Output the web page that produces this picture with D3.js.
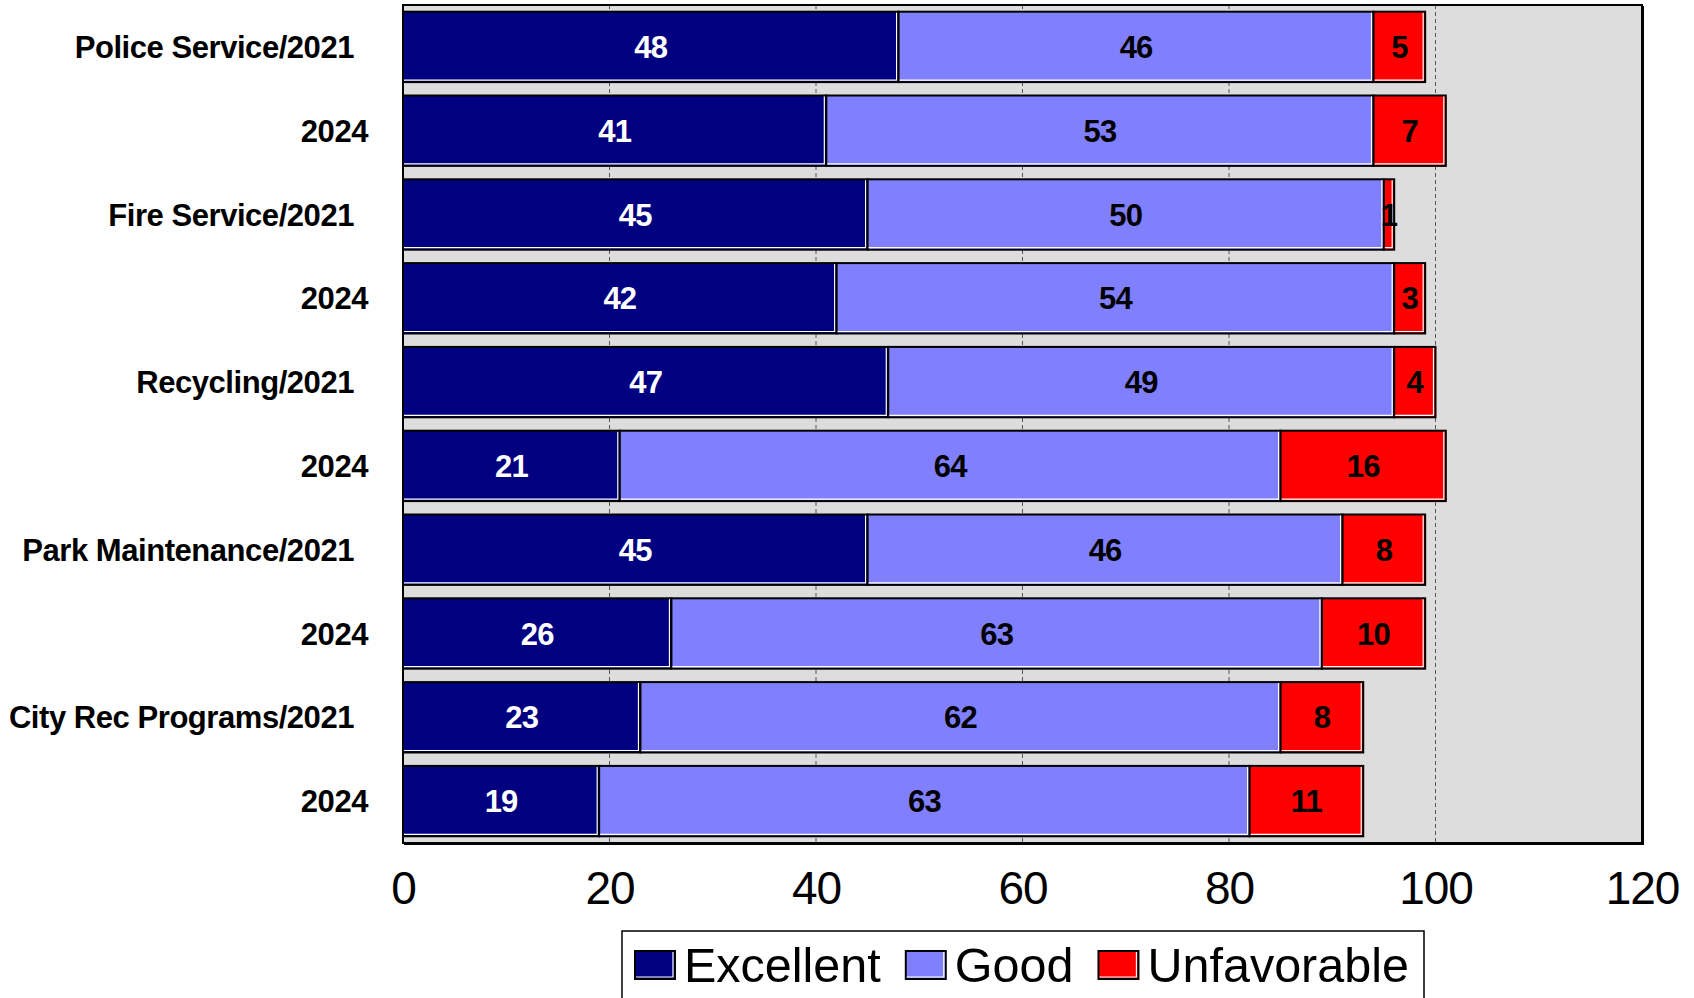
<!DOCTYPE html>
<html>
<head>
<meta charset="utf-8">
<script src="https://cdn.jsdelivr.net/npm/d3@7"></script>
<style>
body { margin: 0; background: #fff; }
text { font-family: "Liberation Sans", Arial, sans-serif; }
</style>
</head>
<body>
<div id="chart"></div>
<script>
// chart data
var categories = ["Police Service/2021", "2024", "Fire Service/2021", "2024", "Recycling/2021",
                  "2024", "Park Maintenance/2021", "2024", "City Rec Programs/2021", "2024"];
var excellent = [48, 41, 45, 42, 47, 21, 45, 26, 23, 19];
var good = [46, 53, 50, 54, 49, 64, 46, 63, 62, 63];
var unfavorable = [5, 7, 1, 3, 4, 16, 8, 10, 8, 11];
var seriesNames = ["Excellent", "Good", "Unfavorable"];
var xTicks = [0, 20, 40, 60, 80, 100, 120];

function init(){
    var w = 1694;
    var h = 998;
    var plot = {left: 403, top: 5, right: 1642, bottom: 843};
    var colors = ["#000080", "#8080ff", "#ff0000"];
    var labelColors = ["#fff", "#000", "#000"];

    var xScale = d3.scaleLinear()
                    .domain([0, 120])
                    .range([plot.left, plot.right]);

    // index domain, since "2024" repeats
    var yScale = d3.scaleBand()
                    .domain(d3.range(categories.length))
                    .range([plot.top, plot.bottom])
                    .paddingInner(0.16)
                    .paddingOuter(0.08);

    var rows = categories.map(function(c, i){
        return {Excellent: excellent[i], Good: good[i], Unfavorable: unfavorable[i]};
    });
    var layers = d3.stack().keys(seriesNames)(rows);

    var svg = d3.select('#chart')
                .append('svg')
                .attr('width', w)
                .attr('height', h);

    // plot background
    svg.append('rect')
        .attr('x', plot.left)
        .attr('y', plot.top)
        .attr('width', plot.right - plot.left)
        .attr('height', plot.bottom - plot.top)
        .attr('fill', '#dddddd');

    // dashed gridlines
    svg.append('g')
        .selectAll('line')
        .data(xTicks.filter(function(t){ return t > 0 && t < 120; }))
        .enter()
        .append('line')
        .attr('x1', function(d){ return xScale(d); })
        .attr('x2', function(d){ return xScale(d); })
        .attr('y1', plot.top)
        .attr('y2', plot.bottom)
        .attr('stroke', '#555')
        .attr('stroke-width', 1)
        .attr('stroke-dasharray', '4,3');

    // bars
    var groups = svg.selectAll('g.layer')
                    .data(layers)
                    .enter()
                    .append('g')
                    .attr('class', 'layer');

    groups.each(function(layer, k){
        var g = d3.select(this);
        layer.forEach(function(d, i){
            var x0 = xScale(d[0]);
            var x1 = xScale(d[1]);
            var y = yScale(i);
            var bh = yScale.bandwidth();
            g.append('rect')
                .attr('x', x0)
                .attr('y', y)
                .attr('width', x1 - x0)
                .attr('height', bh)
                .attr('fill', colors[k])
                .attr('stroke', '#000')
                .attr('stroke-width', 2);
            // thin light edge inside right/bottom
            g.append('path')
                .attr('d', 'M' + (x0 + 1) + ',' + (y + bh - 2) + 'H' + (x1 - 2) + 'V' + (y + 1))
                .attr('fill', 'none')
                .attr('stroke', '#fff')
                .attr('stroke-width', 1.2);
        });
    });

    // value labels
    groups.each(function(layer, k){
        d3.select(this).selectAll('text')
            .data(layer)
            .enter()
            .append('text')
            .attr('x', function(d){ return (xScale(d[0]) + xScale(d[1])) / 2; })
            .attr('y', function(d, i){ return yScale(i) + yScale.bandwidth() / 2; })
            .attr('dy', '0.36em')
            .attr('text-anchor', 'middle')
            .attr('font-size', '31px')
            .attr('font-weight', 'bold')
            .attr('letter-spacing', '-0.8px')
            .attr('fill', labelColors[k])
            .text(function(d){ return d[1] - d[0]; });
    });

    // plot border
    svg.append('rect')
        .attr('x', plot.left)
        .attr('y', plot.top)
        .attr('width', plot.right - plot.left)
        .attr('height', plot.bottom - plot.top)
        .attr('fill', 'none')
        .attr('stroke', '#000')
        .attr('stroke-width', 2);
    svg.append('path')
        .attr('d', 'M' + (plot.left + 1) + ',' + (plot.bottom + 1) + 'H' + (plot.right + 1) + 'V' + (plot.top + 1))
        .attr('fill', 'none')
        .attr('stroke', '#000')
        .attr('stroke-width', 2);

    // category labels
    svg.append('g')
        .selectAll('text')
        .data(categories)
        .enter()
        .append('text')
        .attr('x', function(d){ return d === '2024' ? plot.left - 35 : plot.left - 49; })
        .attr('y', function(d, i){ return yScale(i) + yScale.bandwidth() / 2; })
        .attr('dy', '0.36em')
        .attr('text-anchor', 'end')
        .attr('font-size', '31px')
        .attr('font-weight', 'bold')
        .attr('letter-spacing', '-0.45px')
        .text(function(d){ return d; });

    // x axis labels
    var xAxis = d3.axisBottom(xScale)
                    .tickValues(xTicks)
                    .tickSize(0)
                    .tickPadding(28);
    var ax = svg.append('g')
                .attr('transform', 'translate(0,' + plot.bottom + ')')
                .call(xAxis);
    ax.select('.domain').remove();
    ax.selectAll('text')
        .attr('font-size', '46px')
        .attr('font-family', '"Liberation Sans", Arial, sans-serif')
        .attr('letter-spacing', '-1px')
        .attr('fill', '#000');

    // legend
    var legend = svg.append('g');
    legend.append('rect')
        .attr('x', 622)
        .attr('y', 931)
        .attr('width', 802)
        .attr('height', 90)
        .attr('fill', '#fff')
        .attr('stroke', '#000')
        .attr('stroke-width', 1.5);

    var lx = 635;
    seriesNames.forEach(function(name, k){
        legend.append('rect')
            .attr('x', lx)
            .attr('y', 951)
            .attr('width', 40)
            .attr('height', 28)
            .attr('fill', colors[k])
            .attr('stroke', '#000')
            .attr('stroke-width', 2);
        legend.append('path')
            .attr('d', 'M' + (lx + 1) + ',' + (951 + 26) + 'H' + (lx + 38) + 'V' + 952)
            .attr('fill', 'none')
            .attr('stroke', '#fff')
            .attr('stroke-width', 1.2);
        var t = legend.append('text')
            .attr('x', lx + 49)
            .attr('y', 982)
            .attr('font-size', '48.5px')
            .text(name);
        lx += 49 + t.node().getComputedTextLength() + 25;
    });
}

window.onload = init;
</script>
</body>
</html>
